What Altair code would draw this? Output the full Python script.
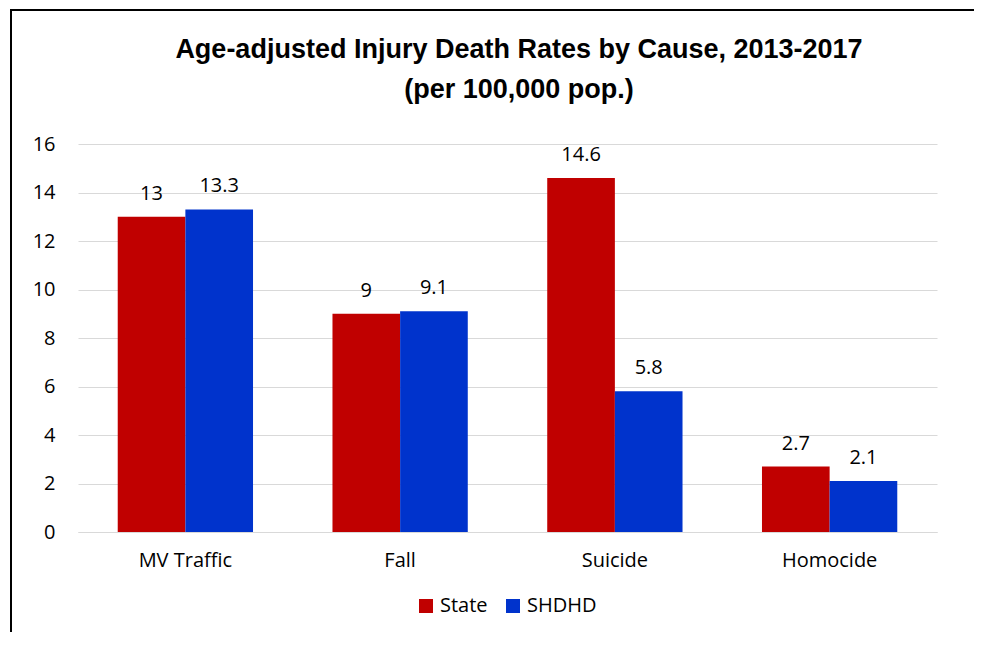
import altair as alt
import pandas as pd

causes = ["MV Traffic", "Fall", "Suicide", "Homocide"]
series = ["State", "SHDHD"]
state_vals = [13, 9, 14.6, 2.7]
shdhd_vals = [13.3, 9.1, 5.8, 2.1]
colors = ["#C00000", "#0033CC"]
y_ticks = [0, 2, 4, 6, 8, 10, 12, 14, 16]
title_lines = ["Age-adjusted Injury Death Rates by Cause, 2013-2017", "(per 100,000 pop.)"]

rows = []
for c, v in zip(causes, state_vals):
    rows.append({"cause": c, "series": "State", "value": v})
for c, v in zip(causes, shdhd_vals):
    rows.append({"cause": c, "series": "SHDHD", "value": v})
df = pd.DataFrame(rows)

LABEL_FONT = "Open Sans"
TITLE_FONT = "Liberation Sans Narrow, Liberation Sans"
FS = 20

x_enc = alt.X("cause:N", sort=causes, title=None,
              scale=alt.Scale(paddingInner=0.37, paddingOuter=0.185),
              axis=alt.Axis(labelAngle=0, labelFont=LABEL_FONT, labelFontSize=FS,
                            labelColor="#000000", labelPadding=18, ticks=False,
                            domain=True, domainColor="#D9D9D9", grid=False))
y_enc = alt.Y("value:Q", title=None,
              scale=alt.Scale(domain=[0, 16], nice=False),
              axis=alt.Axis(values=y_ticks, labelFont=LABEL_FONT, labelFontSize=FS,
                            labelColor="#000000", labelPadding=23, ticks=False,
                            domain=False, grid=True, gridColor="#D9D9D9", gridWidth=1))
xoff = alt.XOffset("series:N", sort=series)

bars = alt.Chart(df).mark_bar().encode(
    x=x_enc, y=y_enc, xOffset=xoff,
    color=alt.Color("series:N", sort=series,
                    scale=alt.Scale(domain=series, range=colors),
                    legend=alt.Legend(title=None, orient="none", direction="horizontal",
                                      legendX=338, legendY=452,
                                      symbolType="square", symbolSize=196,
                                      symbolStrokeWidth=0,
                                      labelFont=LABEL_FONT, labelFontSize=FS,
                                      labelColor="#000000", columnPadding=15,
                                      labelOffset=4)),
)

labels = alt.Chart(df).mark_text(font=LABEL_FONT, fontSize=FS, color="#000000",
                                 baseline="alphabetic", dy=-17).encode(
    x=alt.X("cause:N", sort=causes), y="value:Q", xOffset=xoff,
    text=alt.Text("value:Q"),
)

tdf = pd.DataFrame({"t1": [title_lines[0]], "t2": [title_lines[1]]})
title1 = alt.Chart(tdf).mark_text(font=TITLE_FONT, fontSize=27, fontWeight="bold",
                                  color="#000000", align="center", baseline="alphabetic").encode(
    text="t1:N", x=alt.value(441), y=alt.value(-86))
title2 = alt.Chart(tdf).mark_text(font=TITLE_FONT, fontSize=27, fontWeight="bold",
                                  color="#000000", align="center", baseline="alphabetic").encode(
    text="t2:N", x=alt.value(441), y=alt.value(-46))

one = pd.DataFrame({"a": [0]})
left_border = alt.Chart(one).mark_rule(color="#000000", strokeWidth=2).encode(
    x=alt.value(-67), y=alt.value(-134), y2=alt.value(520))
top_border = alt.Chart(one).mark_rule(color="#000000", strokeWidth=2).encode(
    x=alt.value(-68), x2=alt.value(920), y=alt.value(-134))

chart = alt.layer(bars, labels, title1, title2, left_border, top_border).properties(
    width=859, height=388,
    autosize=alt.AutoSizeParams(type="none"),
    padding={"left": 70, "top": 136, "right": 37, "bottom": 100},
    background="#FFFFFF",
).configure_view(stroke=None)

chart.save("out.html", embed_options={"renderer": "svg", "actions": False})
